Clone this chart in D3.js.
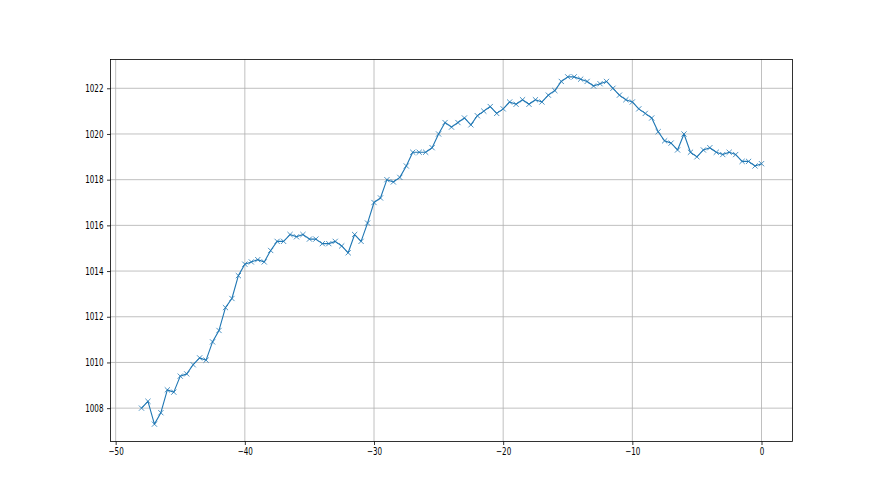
<!DOCTYPE html>
<html><head><meta charset="utf-8">
<script src="https://cdn.jsdelivr.net/npm/d3@7"></script>
<style>body{margin:0;background:#fff}svg{display:block}</style>
</head><body>
<svg id="c" width="880" height="495"></svg>
<script>
const hours = d3.range(97).map(i => -48 + i * 0.5);
const pressure = [
1008.0,1008.3,1007.3,1007.8,1008.8,1008.7,1009.4,1009.5,1009.9,1010.2,
1010.1,1010.9,1011.4,1012.4,1012.8,1013.8,1014.3,1014.4,1014.5,1014.4,
1014.9,1015.3,1015.3,1015.6,1015.5,1015.6,1015.4,1015.4,1015.2,1015.2,
1015.3,1015.1,1014.8,1015.6,1015.3,1016.1,1017.0,1017.2,1018.0,1017.9,
1018.1,1018.6,1019.2,1019.2,1019.2,1019.4,1020.0,1020.5,1020.3,1020.5,
1020.7,1020.4,1020.8,1021.0,1021.2,1020.9,1021.1,1021.4,1021.3,1021.5,
1021.3,1021.5,1021.4,1021.7,1021.9,1022.3,1022.5,1022.5,1022.4,1022.3,
1022.1,1022.2,1022.3,1022.0,1021.7,1021.5,1021.4,1021.1,1020.9,1020.7,
1020.1,1019.7,1019.6,1019.3,1020.0,1019.2,1019.0,1019.3,1019.4,1019.2,
1019.1,1019.2,1019.1,1018.8,1018.8,1018.6,1018.7];
const xTicks = [-50,-40,-30,-20,-10,0];
const yTicks = [1008,1010,1012,1014,1016,1018,1020,1022];

const L = 110.5, R = 792.5, T = 59.5, B = 441.5;
const svg = d3.select('#c');
const xMin = d3.min(hours), xMax = d3.max(hours);
const yMin = d3.min(pressure), yMax = d3.max(pressure);
const xm = (xMax - xMin) * 0.05, ym = (yMax - yMin) * 0.05;
const x = d3.scaleLinear().domain([xMin - xm, xMax + xm]).range([L, R]);
const y = d3.scaleLinear().domain([yMin - ym, yMax + ym]).range([B, T]);

const g = svg.append('g');
// grid
g.selectAll('.gx').data(xTicks).enter().append('line')
  .attr('x1', d => x(d)).attr('x2', d => x(d)).attr('y1', T).attr('y2', B)
  .attr('stroke', '#b0b0b0').attr('stroke-width', 0.8);
g.selectAll('.gy').data(yTicks).enter().append('line')
  .attr('y1', d => y(d)).attr('y2', d => y(d)).attr('x1', L).attr('x2', R)
  .attr('stroke', '#b0b0b0').attr('stroke-width', 0.8);

// line
const line = d3.line().x((d, i) => x(hours[i])).y(d => y(d));
g.append('path').datum(pressure).attr('d', line)
  .attr('fill', 'none').attr('stroke', '#1f77b4').attr('stroke-width', 1.1)
  .attr('stroke-linejoin', 'round');
// markers
const s = 2.6;
g.selectAll('.m').data(pressure).enter().append('path')
  .attr('d', (d, i) => {
    const cx = x(hours[i]), cy = y(d);
    return `M${cx - s},${cy - s}L${cx + s},${cy + s}M${cx - s},${cy + s}L${cx + s},${cy - s}`;
  })
  .attr('stroke', '#1f77b4').attr('stroke-width', 0.8).attr('fill', 'none');

// axes
const xAxis = d3.axisBottom(x).tickValues(xTicks).tickSize(3.5).tickPadding(2.5)
  .tickFormat(d => d < 0 ? '\u2212' + Math.abs(d) : String(d));
const yAxis = d3.axisLeft(y).tickValues(yTicks).tickSize(3.5).tickPadding(3.5).tickFormat(d3.format('d'));
const gx = svg.append('g').attr('transform', `translate(0,${B})`).call(xAxis);
const gy = svg.append('g').attr('transform', `translate(${L},0)`).call(yAxis);
[gx, gy].forEach(a => {
  a.select('.domain').remove();
  a.selectAll('line').attr('stroke', '#000').attr('stroke-width', 0.8);
  a.selectAll('text').attr('fill', '#000').style('font-family', 'DejaVu Sans').style('font-size', '10px');
});
gx.selectAll('.tick text').attr('transform', function () {
  return 'scale(0.72,1)';
}).attr('x', function(){ return 0; });
gy.selectAll('.tick text').each(function () {
  const t = d3.select(this);
  const xx = +t.attr('x');
  t.attr('transform', `translate(${xx},0) scale(0.72,1)`).attr('x', 0);
});
// frame
svg.append('rect').attr('x', L).attr('y', T).attr('width', R - L).attr('height', B - T)
  .attr('fill', 'none').attr('stroke', '#000').attr('stroke-width', 0.8);
</script>
</body></html>
